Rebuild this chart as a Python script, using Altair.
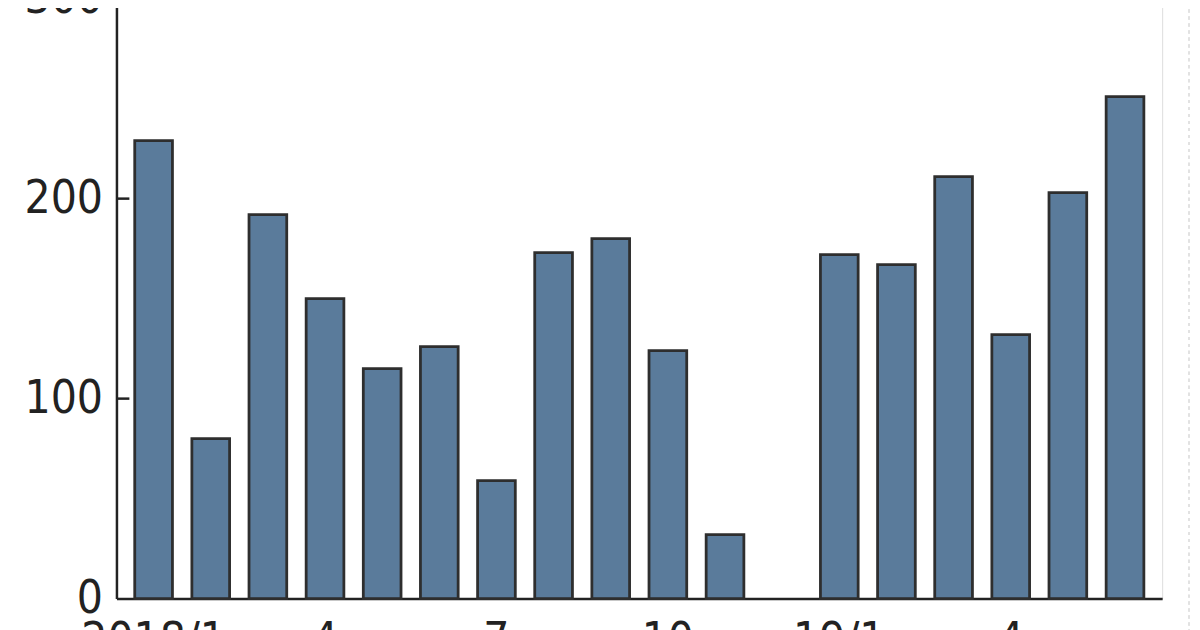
import altair as alt
import pandas as pd

months = ["2018/1", "2018/2", "2018/3", "2018/4", "2018/5", "2018/6", "2018/7", "2018/8",
          "2018/9", "2018/10", "2018/11", "2018/12", "2019/1", "2019/2", "2019/3", "2019/4",
          "2019/5", "2019/6"]
values = [229, 80, 192, 150, 115, 126, 59, 173, 180, 124, 32, None, 172, 167, 211, 132, 203, 251]
tick_labels = ["2018/1", "", "", "4", "", "", "7", "", "", "10", "", "", "19/1", "", "", "4", "", ""]
y_ticks = [0, 100, 200, 300]

df = pd.DataFrame({"month": months, "value": values})
tick_df = pd.DataFrame({"v": y_ticks[1:]})

label_expr = ""
for m, l in zip(months, tick_labels):
    label_expr += f"datum.value == '{m}' ? '{l}' : "
label_expr += "''"

FONT = "Liberation Sans Narrow, DejaVu Sans Condensed, Noto Sans"

x_enc = alt.X("month:N", sort=months,
              scale=alt.Scale(paddingInner=0.34, paddingOuter=0.32),
              axis=alt.Axis(title=None, labelExpr=label_expr, labelAngle=0, ticks=False,
                            grid=False, domainColor="#222", domainWidth=2.5, labelFont=FONT,
                            labelFontSize=46, labelColor="#222", labelPadding=20,
                            labelBaseline="top"))

bars = alt.Chart(df).mark_bar(color="#5a7b9b", stroke="#2e2e2e", strokeWidth=2.8).encode(
    x=x_enc,
    y=alt.Y("value:Q", scale=alt.Scale(domain=[0, 300], nice=False),
            axis=alt.Axis(title=None, values=y_ticks, ticks=False, grid=False,
                          domainColor="#222", domainWidth=2.5, labelFont=FONT,
                          labelFontSize=46, labelColor="#222", labelPadding=14)),
)

ticks = alt.Chart(tick_df).mark_rule(color="#222", strokeWidth=2.5).encode(
    y=alt.Y("v:Q"),
    x=alt.value(0),
    x2=alt.value(13),
)

edge = alt.Chart(tick_df).mark_rule(color="#e2e2e2", strokeWidth=2, strokeDash=[3, 4]).encode(
    x=alt.value(1078),
    y=alt.value(-10),
    y2=alt.value(640),
)

chart = alt.layer(bars, ticks, edge).properties(
    width=1051, height=603,
    autosize=alt.AutoSizeParams(type="none"),
    padding={"left": 109, "top": -11, "right": 30, "bottom": 40},
).configure_view(stroke="transparent", strokeWidth=0).configure(background="white")

chart.save("out.html", embed_options={"renderer": "svg", "actions": False})
